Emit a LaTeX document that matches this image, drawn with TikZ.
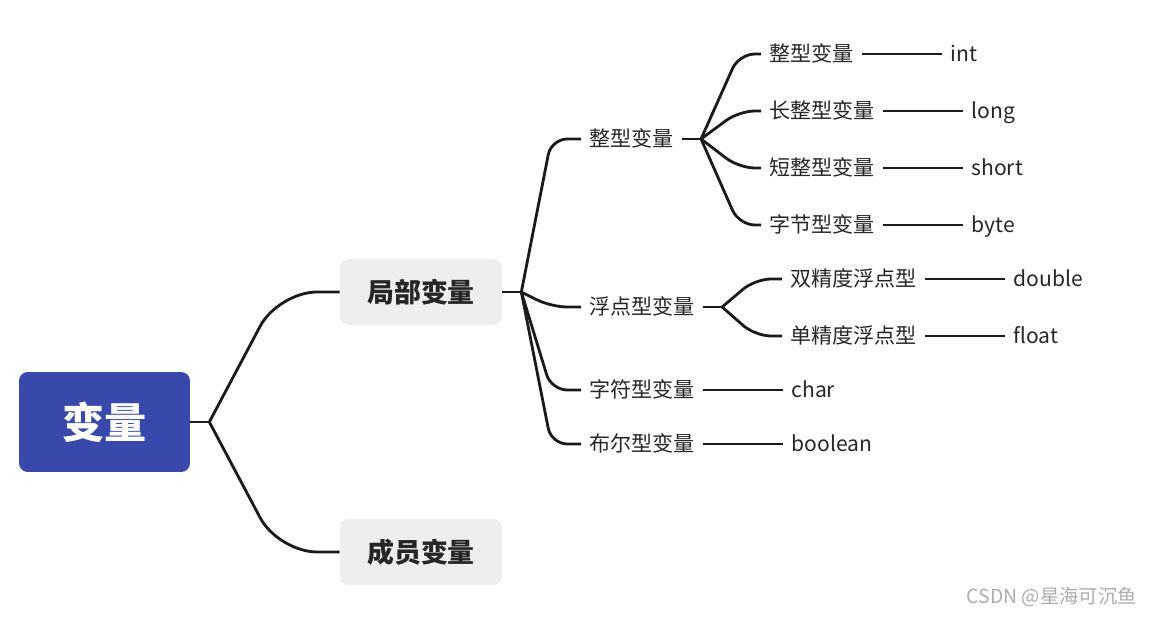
\documentclass[tikz,border=0pt]{standalone}
\usepackage{fontspec}
\setmainfont{Noto Sans CJK SC}
\usetikzlibrary{positioning, calc}
\definecolor{rootblue}{HTML}{3949AB}
\definecolor{boxgray}{HTML}{EEEEEE}
\definecolor{linegray}{HTML}{1A1A1A}
\definecolor{textgray}{HTML}{262626}

\begin{document}
\begin{tikzpicture}[x=0.02cm, y=-0.02cm,
  rootbox/.style={fill=rootblue, rounded corners=5pt, minimum width=3.42cm, minimum height=2cm, text=white, font=\fontsize{24}{28}\selectfont\bfseries},
  mainbox/.style={fill=boxgray, rounded corners=5pt, minimum width=3.24cm, minimum height=1.32cm, text=textgray, font=\fontsize{15.3}{18}\selectfont\bfseries},
  sub/.style={anchor=west, inner xsep=0.16cm, inner ysep=2pt, text height=0.95em, text depth=0.05em, text=textgray, font=\fontsize{12}{14}\selectfont},
  stub/.style={draw=linegray, line width=1.6pt},
  trunk/.style={stub, rounded corners=22pt},
  twig/.style={stub, rounded corners=9pt},
]
\useasboundingbox (0,0) rectangle (1153,617);

% boxes
\node[rootbox] (var) at (104.5,422) {变量};
\node[mainbox] (local) at (421,292) {局部变量};
\node[mainbox] (member) at (421,552) {成员变量};

% second level
\node[sub] (int) at (581,139) {整型变量};
\node[sub] (flt) at (581,307) {浮点型变量};
\node[sub] (chr) at (581,390) {字符型变量};
\node[sub] (bool) at (581,444) {布尔型变量};

% third level
\node[sub] (int1) at (761,54) {整型变量};
\node[sub] (int2) at (761,111) {长整型变量};
\node[sub] (int3) at (761,168) {短整型变量};
\node[sub] (int4) at (761,225) {字节型变量};
\node[sub] (flt1) at (782,279) {双精度浮点型};
\node[sub] (flt2) at (782,336) {单精度浮点型};

% leaves
\node[sub, right=1.6cm of int1] (kint) {int};
\node[sub, right=1.6cm of int2] (klong) {long};
\node[sub, right=1.6cm of int3] (kshort) {short};
\node[sub, right=1.6cm of int4] (kbyte) {byte};
\node[sub, right=1.6cm of flt1] (kdouble) {double};
\node[sub, right=1.6cm of flt2] (kfloat) {float};
\node[sub, right=1.6cm of chr] (kchar) {char};
\node[sub, right=1.6cm of bool] (kbool) {boolean};

% root branches
\draw[stub] (var.east) -- ++(19,0) coordinate (j0);
\draw[trunk] (j0) -- ($(j0 |- local.west)+(69,0)$) -- (local.west);
\draw[trunk] (j0) -- ($(j0 |- member.west)+(69,0)$) -- (member.west);

% local branches
\draw[stub] (local.east) -- ++(19,0) coordinate (j1);
\draw[twig] (j1) -- ($(j1 |- int.west)+(30,0)$) -- (int.west);
\draw[twig] (j1) -- ($(j1 |- flt.west)+(30,0)$) -- (flt.west);
\draw[twig] (j1) -- ($(j1 |- chr.west)+(30,0)$) -- (chr.west);
\draw[twig] (j1) -- ($(j1 |- bool.west)+(30,0)$) -- (bool.west);

\draw[stub] (int.east) -- ++(19,0) coordinate (j2);
\draw[twig] (j2) -- ($(j2 |- int1.west)+(38,0)$) -- (int1.west);
\draw[twig] (j2) -- ($(j2 |- int2.west)+(38,0)$) -- (int2.west);
\draw[twig] (j2) -- ($(j2 |- int3.west)+(38,0)$) -- (int3.west);
\draw[twig] (j2) -- ($(j2 |- int4.west)+(38,0)$) -- (int4.west);

\draw[stub] (flt.east) -- ++(19,0) coordinate (j3);
\draw[twig] (j3) -- ($(j3 |- flt1.west)+(33,0)$) -- (flt1.west);
\draw[twig] (j3) -- ($(j3 |- flt2.west)+(33,0)$) -- (flt2.west);

\draw[stub] (int1) -- (kint);
\draw[stub] (int2) -- (klong);
\draw[stub] (int3) -- (kshort);
\draw[stub] (int4) -- (kbyte);
\draw[stub] (flt1) -- (kdouble);
\draw[stub] (flt2) -- (kfloat);
\draw[stub] (chr) -- (kchar);
\draw[stub] (bool) -- (kbool);

\node[anchor=east, inner sep=0, text=gray!65, font=\fontsize{11}{13}\selectfont] (mark) at (1137,597) {CSDN @星海可沉鱼};
\end{tikzpicture}
\end{document}
